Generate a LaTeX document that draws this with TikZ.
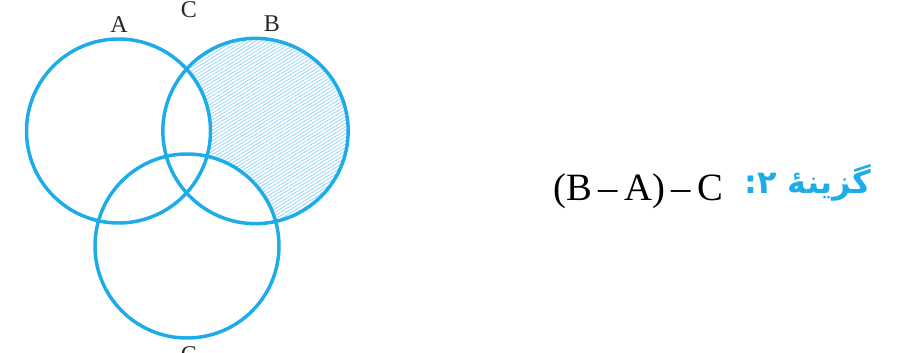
\documentclass[tikz,border=0pt]{standalone}
\usepackage{fontspec}
\setmainfont{Liberation Serif}
\newfontfamily\arabicfont[Script=Arabic]{DejaVu Sans}
\TeXXeTstate=1
\usetikzlibrary{patterns.meta}
\definecolor{vblue}{RGB}{30,172,232}
\definecolor{hblue}{RGB}{140,210,245}
\tikzset{
  setcircle/.style={draw=vblue, line width=2.6pt},
  setlabel/.style={font=\fontsize{18}{18}\selectfont, text=black!85, inner sep=0pt},
}
\begin{document}
\begin{tikzpicture}[x=0.75pt,y=-0.75pt]
\useasboundingbox (0,0) rectangle (908,353);
\clip (0,0) rectangle (908,353);
\coordinate (cA) at (118.5,131);
\coordinate (cB) at (255.5,131);
\coordinate (cC) at (187,246);
% hatched region B - A - C
\fill[pattern={Lines[angle=32,distance=2.2pt,line width=0.55pt]}, pattern color=hblue] (cB) circle[radius=69.5pt];
\fill[white] (cA) circle[radius=69pt];
\fill[white] (cC) circle[radius=69pt];
% circles
\draw[setcircle] (cA) circle[radius=69pt];
\draw[setcircle] (cB) circle[radius=69.5pt];
\draw[setcircle] (cC) circle[radius=69pt];
% labels
\node[setlabel] (la) at (119,25) {A};
\node[setlabel] (lb) at (272,24) {B};
\node[setlabel] (lc) at (189,10) {C};
\node[setlabel, anchor=north] (lc2) at (189,346) {C};
% formula
\node[anchor=base west, inner sep=0pt, font=\fontsize{29}{29}\selectfont] (f) at (553,200) {(B\,–\,A)\,–\,C};
\node[anchor=base east, inner sep=0pt, text=vblue, font=\arabicfont\bfseries\fontsize{24}{24}\selectfont] (g) at (871,194) {\beginR گزینهٔ ۲:\endR};
\end{tikzpicture}
\end{document}
